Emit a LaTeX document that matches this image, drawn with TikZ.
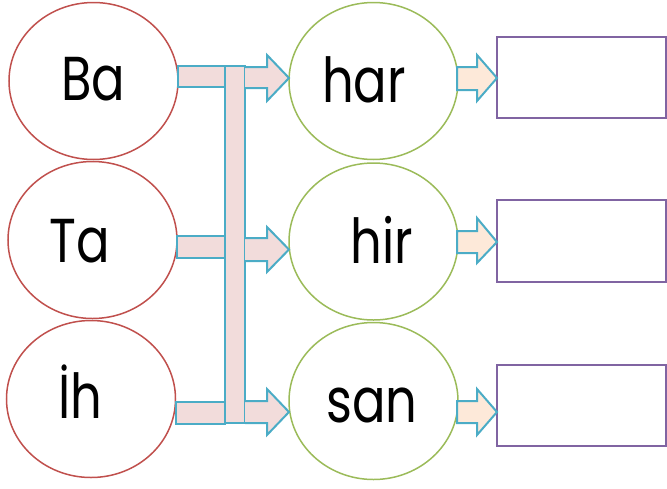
\documentclass[tikz,border=0pt]{standalone}
\usepackage{fontspec}
\setmainfont{Poppins}[FakeStretch=0.8]
\usetikzlibrary{shapes.geometric}
\definecolor{cred}{HTML}{C0504D}
\definecolor{cgreen}{HTML}{9BBB59}
\definecolor{cpurple}{HTML}{8064A2}
\definecolor{cblue}{HTML}{4BACC6}
\definecolor{cpink}{HTML}{F2DCDB}
\definecolor{cpeach}{HTML}{FDE9D9}
\tikzset{
  redcirc/.style={draw=cred, line width=1.5pt, ellipse, minimum width=169pt, minimum height=157pt, inner sep=0pt},
  greencirc/.style={draw=cgreen, line width=1.5pt, ellipse, minimum width=169pt, minimum height=157pt, inner sep=0pt},
  answerbox/.style={draw=cpurple, line width=2pt},
  bararrow/.style={draw=cblue, fill=cpink, line width=2pt, line join=miter},
  smallarrow/.style={draw=cblue, fill=cpeach, line width=2pt, line join=miter},
  word/.style={anchor=base, inner sep=0pt, font=\fontsize{62}{70}\selectfont},
}
\begin{document}
\begin{tikzpicture}[x=1pt,y=-1pt]
\useasboundingbox (0,0) rectangle (667,488);
% left circles
\node[redcirc] (l1) at (93.5,81) {};
\node[redcirc] (l2) at (92.5,240) {};
\node[redcirc] (l3) at (91,399) {};
% green circles
\node[greencirc] (g1) at (373.5,81) {};
\node[greencirc] (g2) at (373.5,241.5) {};
\node[greencirc] (g3) at (373.5,401) {};
% boxes
\draw[answerbox] (497,37) rectangle (666,118);
\draw[answerbox] (497,200) rectangle (666,282);
\draw[answerbox] (497,365) rectangle (666,446);
\coordinate (b1) at (497,78);
\coordinate (b2) at (497,242);
\coordinate (b3) at (497,412);
% horizontal bars
\draw[bararrow] (178,66) rectangle (226,87);
\draw[bararrow] (177,236) rectangle (225,258);
\draw[bararrow] (176,402) rectangle (225,424);
% vertical bar
\draw[bararrow] (225,66) rectangle (245,423);
% big arrows
\draw[bararrow] (245,67) -- (267,67) -- (267,55) -- (289,78) -- (267,101) -- (267,88) -- (245,88);
\draw[bararrow] (245,238) -- (267,238) -- (267,227) -- (289,249.5) -- (267,272) -- (267,261) -- (245,261);
\draw[bararrow] (245,401) -- (267,401) -- (267,389) -- (289,412) -- (267,435) -- (267,423) -- (245,423);
% small arrows
\draw[smallarrow] (457,67) -- (477,67) -- (477,55) -- (b1) -- (477,101) -- (477,90) -- (457,90) -- cycle;
\draw[smallarrow] (457,231) -- (477,231) -- (477,218) -- (b2) -- (477,263) -- (477,253) -- (457,253) -- cycle;
\draw[smallarrow] (457,401) -- (477,401) -- (477,389) -- (b3) -- (477,435) -- (477,423) -- (457,423) -- cycle;
% words
\node[word] (tBa) at (93,100) {Ba};
\node[word] (tTa) at (80,262) {Ta};
\node[word] (tIh) at (80,418) {İh};
\node[word] (thar) at (364,102) {har};
\node[word] (thir) at (382,263) {hir};
\node[word] (tsan) at (372,422) {san};
\end{tikzpicture}
\end{document}
